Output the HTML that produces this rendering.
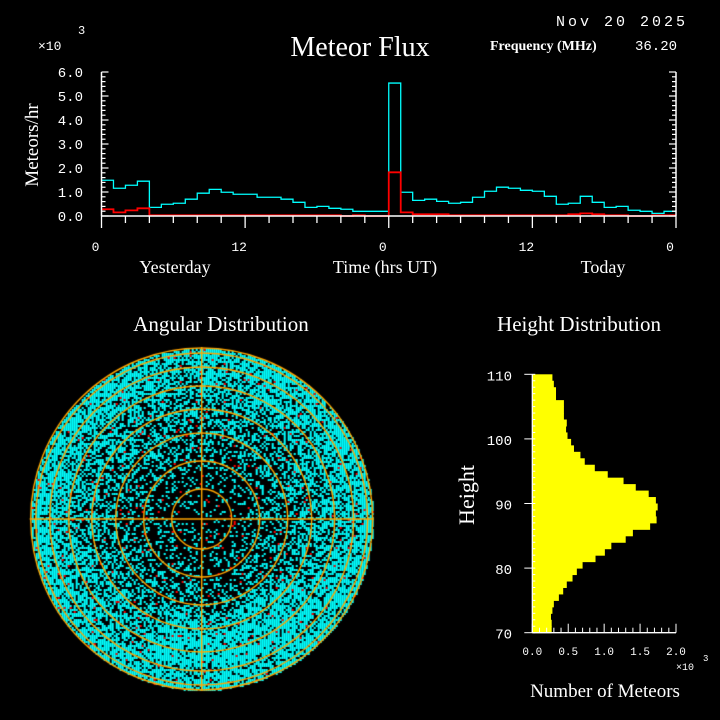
<!DOCTYPE html>
<html><head><meta charset="utf-8"><style>
html,body{margin:0;padding:0;background:#000;width:720px;height:720px;overflow:hidden}
#root{position:relative;width:720px;height:720px}
svg{position:absolute;left:0;top:0}
canvas{position:absolute;left:0;top:0}
</style></head><body>
<div id="root">
<canvas id="polar" width="720" height="720"></canvas>
<svg id="s" width="720" height="720" xmlns="http://www.w3.org/2000/svg">
<g font-family="Liberation Serif, serif" fill="#fff">
<text x="360" y="56" font-size="28" text-anchor="middle">Meteor Flux</text>
<text x="688" y="26" font-size="15" font-family="Liberation Mono, monospace" text-anchor="end" letter-spacing="3">Nov 20 2025</text>
<text x="490" y="50" font-size="14" font-weight="bold" font-family="Liberation Serif, serif">Frequency (MHz)</text>
<text x="635" y="50" font-size="14" font-family="Liberation Mono, monospace">36.20</text>
<text x="38" y="50" font-size="13" font-family="Liberation Mono, monospace">×10</text>
<text x="78" y="34" font-size="12" font-family="Liberation Mono, monospace">3</text>
<text transform="translate(38,145) rotate(-90)" font-size="19" text-anchor="middle">Meteors/hr</text>
<text x="175" y="273" font-size="18" text-anchor="middle">Yesterday</text>
<text x="385" y="273" font-size="18" text-anchor="middle">Time (hrs UT)</text>
<text x="603" y="273" font-size="18" text-anchor="middle">Today</text>
<text x="221" y="331" font-size="21" text-anchor="middle">Angular Distribution</text>
<text x="579" y="331" font-size="21" text-anchor="middle">Height Distribution</text>
<text transform="translate(474,495) rotate(-90)" font-size="22" text-anchor="middle">Height</text>
<text x="605" y="697" font-size="19" text-anchor="middle">Number of Meteors</text>
<text x="676" y="670" font-size="10" font-family="Liberation Mono, monospace">×10</text>
<text x="703" y="661" font-size="9" font-family="Liberation Mono, monospace">3</text>
</g>
<g id="flux"></g>
<g id="hgt"></g>
</svg>
</div>
<script>
const hours = Array.from({length:48},(_,i)=>i);
const totalFlux = [1490,1155,1280,1450,360,490,530,700,950,1110,990,905,905,780,780,700,570,360,400,320,280,195,195,195,5540,990,650,700,610,530,570,780,1030,1200,1155,1070,1030,820,490,530,820,570,360,400,240,195,110,195];
const showerFlux = [280,150,235,320,30,30,30,30,30,30,30,30,30,30,30,30,30,30,30,30,0,30,0,0,1820,150,70,70,70,30,30,30,30,30,30,30,30,30,30,70,110,70,30,30,0,0,30,30];
const yTicks = [0,1,2,3,4,5,6];
const yTickLabels = ["0.0","1.0","2.0","3.0","4.0","5.0","6.0"];
const xTicks = [0,12,24,36,48];
const xTickLabels = ["0","12","0","12","0"];
const heightBins = [109,108,107,106,105,104,103,102,101,100,99,98,97,96,95,94,93,92,91,90,89,88,87,86,85,84,83,82,81,80,79,78,77,76,75,74,73,72,71,70];
const heightCounts = [0.28,0.30,0.33,0.33,0.44,0.44,0.44,0.48,0.47,0.49,0.54,0.58,0.67,0.73,0.87,1.05,1.27,1.44,1.62,1.72,1.745,1.72,1.73,1.64,1.40,1.30,1.10,1.01,0.88,0.70,0.62,0.56,0.48,0.43,0.37,0.30,0.28,0.26,0.27,0.27];
const hTicks = [70,80,90,100,110];
const nTicks = [0,0.5,1.0,1.5,2.0];
const nTickLabels = ["0.0","0.5","1.0","1.5","2.0"];

const NS="http://www.w3.org/2000/svg";
function mk(parent,tag,attrs){const e=document.createElementNS(NS,tag);for(const k in attrs)e.setAttribute(k,attrs[k]);parent.appendChild(e);return e;}

const fx = h => 101.5 + h*(676-101.5)/48;
const fy = v => 216 - v*(216-72)/6000;
const flux=document.getElementById('flux');
function stepPath(vals){let d='';vals.forEach((v,i)=>{d+=(i?'L':'M')+fx(i)+','+fy(v)+'L'+fx(i+1)+','+fy(v);});return d;}
let p=mk(flux,'path',{d:stepPath(totalFlux),fill:'none',stroke:'#0ff','stroke-width':1.3});


p=mk(flux,'path',{d:stepPath(showerFlux),fill:'none',stroke:'#f00','stroke-width':1.8});


mk(flux,'line',{x1:fx(0),y1:fy(0),x2:fx(48),y2:fy(0),stroke:'#fff','stroke-width':1.5});
mk(flux,'line',{x1:fx(0),y1:fy(0),x2:fx(0),y2:fy(6000),stroke:'#fff','stroke-width':1.5});
mk(flux,'line',{x1:fx(48),y1:fy(0),x2:fx(48),y2:fy(6000),stroke:'#fff','stroke-width':1.5});
for(let v=0;v<=6000;v+=200){const L=v%1000===0?7:4;
 mk(flux,'line',{x1:fx(0),y1:fy(v),x2:fx(0)+L,y2:fy(v),stroke:'#fff','stroke-width':1.2});
 mk(flux,'line',{x1:fx(48),y1:fy(v),x2:fx(48)-L,y2:fy(v),stroke:'#fff','stroke-width':1.2});}
yTicks.forEach((t,i)=>{const e=mk(flux,'text',{x:83,y:fy(t*1000)+5,'font-size':14,'font-family':'Liberation Mono, monospace',fill:'#fff','text-anchor':'end'});e.textContent=yTickLabels[i];
 
 });
for(let h=0;h<=48;h+=2){const L=h%12===0?12:7;mk(flux,'line',{x1:fx(h),y1:216,x2:fx(h),y2:216+L,stroke:'#fff','stroke-width':1.3});}
xTicks.forEach((t,i)=>{const e=mk(flux,'text',{x:fx(t)-6,y:251,'font-size':13,'font-family':'Liberation Mono, monospace',fill:'#fff','text-anchor':'middle'});e.textContent=xTickLabels[i];
 
 });

const hx = n => 532.3 + n*(676-532.3)/2;
const hy = h => 632.7 - (h-70)*(632.7-374.3)/40;
const hg=document.getElementById('hgt');
heightBins.forEach((b,i)=>{const r=mk(hg,'rect',{x:hx(0),y:hy(b+1),width:hx(heightCounts[i])-hx(0),height:hy(b)-hy(b+1)+0.5,fill:'#ff0'});
 
 });
mk(hg,'line',{x1:hx(0),y1:hy(70),x2:hx(0),y2:hy(110),stroke:'#fff','stroke-width':1.3});
mk(hg,'line',{x1:hx(0),y1:hy(70),x2:hx(2),y2:hy(70),stroke:'#fff','stroke-width':1.3});
for(let h=70;h<=110;h++){const major=h%10===0;mk(hg,'line',{x1:hx(0)-(major?8:0),y1:hy(h),x2:hx(0)+3,y2:hy(h),stroke:'#fff','stroke-width':1});}
for(let k=0;k<=20;k++){const n=k/10;const L=k%5===0?9:5;mk(hg,'line',{x1:hx(n),y1:hy(70),x2:hx(n),y2:hy(70)-L,stroke:'#fff','stroke-width':1});}
hTicks.forEach(t=>{const e=mk(hg,'text',{x:512,y:hy(t)+6,'font-size':14,'font-family':'Liberation Mono, monospace',fill:'#fff','text-anchor':'end'});e.textContent=String(t);
 
 });
nTicks.forEach((t,i)=>{const e=mk(hg,'text',{x:hx(t),y:655,'font-size':11,'font-family':'Liberation Mono, monospace',fill:'#fff','text-anchor':'middle'});e.textContent=nTickLabels[i];
 
 });

const c=document.getElementById('polar').getContext('2d');
const cx=201.7,cy=519,R=172;
function hash(x,y){let h=(x*374761393+y*668265263)|0;h=(h^(h>>>13))*1274126177|0;return ((h^(h>>>16))>>>0)/4294967296;}
for(let y=cy-R;y<cy+R;y+=2){for(let x=cx-R;x<cx+R;x+=2){const dx=x-cx,dy=y-cy,r=Math.hypot(dx,dy);if(r>R-1)continue;
 const t=r/R;let pd=0.08+0.75*Math.pow(t,1.3);
 const ang=Math.atan2(dy,dx);
 if(t>0.55&&t<0.85&&ang>0.6&&ang<2.0)pd+=0.2;
 const v=hash(Math.round(x),Math.round(y));
 if(v<pd){c.fillStyle='#0ff';c.fillRect(x,y,2,2);}else if(v>0.985){c.fillStyle='#f00';c.fillRect(x,y,2,2);}
}}
c.strokeStyle='#ffa500';c.lineWidth=1.4;
[30,58,86,110,133,152,166,171].forEach(r=>{c.beginPath();c.arc(cx,cy,r,0,Math.PI*2);c.stroke();});
c.beginPath();c.moveTo(cx-R,cy);c.lineTo(cx+R,cy);c.moveTo(cx,cy-R);c.lineTo(cx,cy+R);c.stroke();
</script>
</body></html>
